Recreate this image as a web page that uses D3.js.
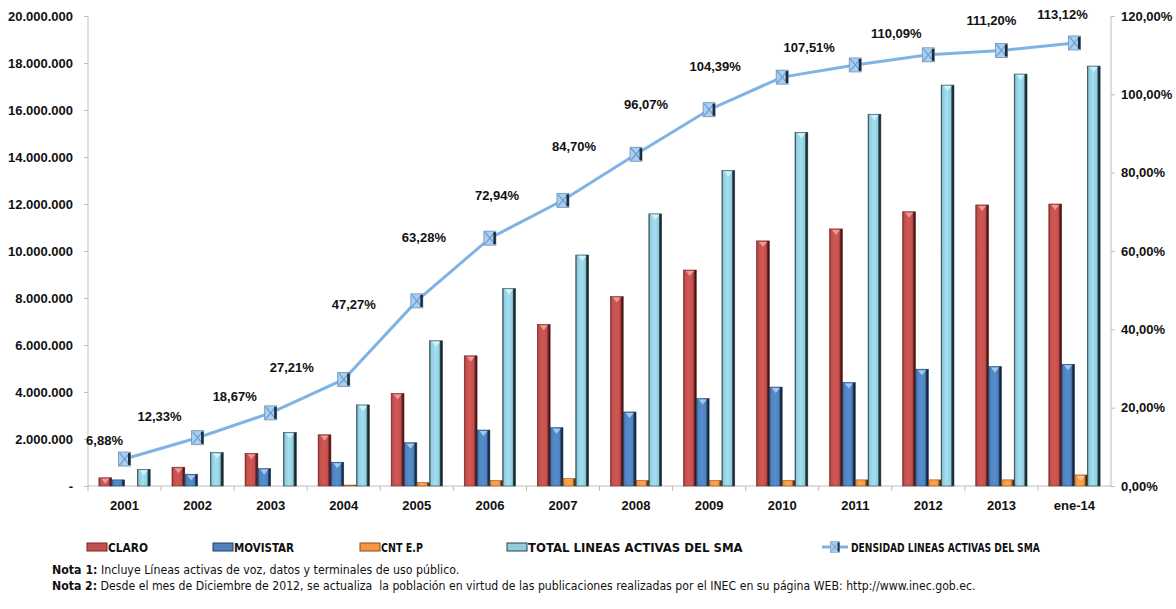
<!DOCTYPE html>
<html>
<head>
<meta charset="utf-8">
<script src="https://cdn.jsdelivr.net/npm/d3@7"></script>
<style>
  body { margin: 0; background: #fff; }
  svg { display: block; }
</style>
</head>
<body>
<div id="chart"></div>
<script>
// Líneas activas del SMA por operadora y densidad
const categories = ["2001", "2002", "2003", "2004", "2005", "2006", "2007", "2008", "2009", "2010", "2011", "2012", "2013", "ene-14"];
const claro    = [350000, 800000, 1390000, 2180000, 3940000, 5540000, 6880000, 8060000, 9190000, 10430000, 10940000, 11670000, 11960000, 12000000];
const movistar = [260000, 500000, 740000, 1010000, 1840000, 2380000, 2480000, 3150000, 3720000, 4210000, 4400000, 4970000, 5080000, 5180000];
const cnt      = [0, 0, 0, 40000, 140000, 230000, 310000, 230000, 230000, 230000, 260000, 260000, 260000, 470000];
const total    = [710000, 1420000, 2280000, 3450000, 6180000, 8400000, 9830000, 11580000, 13420000, 15050000, 15820000, 17060000, 17530000, 17870000];
const densidad = [6.88, 12.33, 18.67, 27.21, 47.27, 63.28, 72.94, 84.70, 96.07, 104.39, 107.51, 110.09, 111.20, 113.12];
const leftTicks  = [0, 2e6, 4e6, 6e6, 8e6, 10e6, 12e6, 14e6, 16e6, 18e6, 20e6];
const rightTicks = [0, 20, 40, 60, 80, 100, 120];

const seriesNames = ["CLARO", "MOVISTAR", "CNT E.P", "TOTAL LINEAS ACTIVAS DEL SMA"];
const lineName = "DENSIDAD LINEAS ACTIVAS DEL SMA";

// desplazamiento manual de las etiquetas de la línea (como en el original)
const labelNudge = [[-20, -19], [-38, -21], [-36, -16], [-52, -12], [-63, 4], [-66, -1], [-66, -5], [-62, -8], [-63, -5], [-67, -11], [-46, -17], [-32, -21], [-10, -30], [-12, -28]];

const width = 1176, height = 609;
const margin = { top: 16, right: 65, bottom: 123, left: 88 };

const loc = d3.formatLocale({ decimal: ",", thousands: ".", grouping: [3], currency: ["$", ""] });
const fmtInt = loc.format(",.0f");
const fmtPct = loc.format(",.2f");

const colors = {
  "CLARO":    { base: "#c0504d", dark: "#7a2523", tri: "#eb9a97" },
  "MOVISTAR": { base: "#4f81bd", dark: "#1d3f66", tri: "#a9c6ec" },
  "CNT E.P":  { base: "#f79646", dark: "#8a4a12", tri: "#fcc897" },
  "TOTAL LINEAS ACTIVAS DEL SMA": { base: "#93cddd", dark: "#27434c", tri: "#d4f0f8" }
};

const data = categories.map((c, i) => ({
  cat: c,
  values: [claro[i], movistar[i], cnt[i], total[i]],
  dens: densidad[i]
}));

const svg = d3.select("#chart").append("svg")
  .attr("width", width)
  .attr("height", height)
  .style("font-family", "'Liberation Sans', Arial, sans-serif");

// estrecha un texto horizontalmente hasta el ancho deseado
function fitWidth(sel, x0, w) {
  const len = sel.node().getComputedTextLength();
  if (len > w) {
    const k = w / len;
    sel.attr("transform", `translate(${x0},0) scale(${k},1) translate(${-x0},0)`);
  }
}

const defs = svg.append("defs");
seriesNames.forEach((s, i) => {
  const g = defs.append("linearGradient").attr("id", "grad" + i)
    .attr("x1", 0).attr("x2", 1).attr("y1", 0).attr("y2", 0);
  g.append("stop").attr("offset", "0%").attr("stop-color", colors[s].dark);
  g.append("stop").attr("offset", "12%").attr("stop-color", colors[s].base);
  g.append("stop").attr("offset", "45%").attr("stop-color", d3.color(colors[s].base).brighter(0.25));
  g.append("stop").attr("offset", "75%").attr("stop-color", colors[s].base);
  g.append("stop").attr("offset", "84%").attr("stop-color", colors[s].dark);
  g.append("stop").attr("offset", "100%").attr("stop-color", "#111");
});

const x = d3.scaleBand()
  .domain(categories)
  .range([margin.left, width - margin.right]);

const x1 = d3.scaleBand()
  .domain(seriesNames)
  .range([0, x.bandwidth()])
  .paddingInner(0)
  .paddingOuter(0.85);

const y = d3.scaleLinear()
  .domain([0, 20e6])
  .range([height - margin.bottom, margin.top]);

const y2 = d3.scaleLinear()
  .domain([0, 120])
  .range([height - margin.bottom, margin.top]);

// ejes
const axisColor = "#bdbdbd";
const gl = svg.append("g")
  .attr("transform", `translate(${margin.left},0)`)
  .call(d3.axisLeft(y).tickValues(leftTicks).tickSize(4).tickPadding(11)
    .tickFormat(d => d === 0 ? "-" : fmtInt(d)));

const gr = svg.append("g")
  .attr("transform", `translate(${width - margin.right},0)`)
  .call(d3.axisRight(y2).tickValues(rightTicks).tickSize(4).tickPadding(6)
    .tickFormat(d => fmtPct(d) + "%"));

const gb = svg.append("g")
  .attr("transform", `translate(0,${height - margin.bottom})`)
  .call(d3.axisBottom(x).tickSize(0).tickPadding(15));

// marcas entre categorías
svg.append("g").selectAll("line")
  .data(categories)
  .enter().append("line")
  .attr("x1", d => x(d)).attr("x2", d => x(d))
  .attr("y1", y(0)).attr("y2", y(0) + 5)
  .attr("stroke", axisColor);

[gl, gr, gb].forEach(g => {
  g.selectAll("path, line").attr("stroke", axisColor);
  g.selectAll("text")
    .attr("fill", "#111")
    .style("font-size", "13px")
    .style("font-weight", "bold")
    .style("font-family", "'Liberation Sans', Arial, sans-serif");
});
gl.select("path.domain").attr("d", `M0,${y(0)}V${y(20e6)}`);
gr.select("path.domain").attr("d", `M0,${y2(0)}V${y2(120)}`);
gb.select("path.domain").attr("d", `M${margin.left},0H${width - margin.right}`);

// barras
const groups = svg.append("g").selectAll("g")
  .data(data)
  .enter().append("g")
  .attr("transform", d => `translate(${x(d.cat)},0)`);

const bars = groups.selectAll("g")
  .data(d => d.values.map((v, i) => ({ key: seriesNames[i], idx: i, v })).filter(e => e.v > 0))
  .enter().append("g");

bars.append("rect")
  .attr("x", d => x1(d.key))
  .attr("y", d => y(d.v))
  .attr("width", x1.bandwidth())
  .attr("height", d => y(0) - y(d.v))
  .attr("fill", d => `url(#grad${d.idx})`)
  .attr("stroke", d => colors[d.key].dark)
  .attr("stroke-width", 0.6);

bars.filter(d => y(0) - y(d.v) > 8)
  .append("path")
  .attr("d", d => {
    const cx = x1(d.key) + x1.bandwidth() / 2;
    const ty = y(d.v) + 1;
    return `M${cx - 4},${ty}L${cx + 4},${ty}L${cx},${ty + 5}Z`;
  })
  .attr("fill", d => colors[d.key].tri);

// línea de densidad
const cx = d => x(d.cat) + x.bandwidth() / 2;
const line = d3.line().x(cx).y(d => y2(d.dens));

svg.append("path")
  .datum(data)
  .attr("d", line)
  .attr("fill", "none")
  .attr("stroke", "#7fb3e6")
  .attr("stroke-width", 3);

function marker(g) {
  g.append("rect")
    .attr("x", -6).attr("y", -7).attr("width", 12).attr("height", 14)
    .attr("fill", "#a9d0f0").attr("stroke", "#6d8fb0").attr("stroke-width", 0.8);
  g.append("path")
    .attr("d", "M-5,-6L5,6M5,-6L-5,6")
    .attr("stroke", "#6a9bd0").attr("stroke-width", 1.2);
  g.append("rect")
    .attr("x", 3.5).attr("y", -6).attr("width", 2.5).attr("height", 12)
    .attr("fill", "#1e2b38");
}

svg.append("g").selectAll("g")
  .data(data)
  .enter().append("g")
  .attr("transform", d => `translate(${cx(d)},${y2(d.dens)})`)
  .each(function () { marker(d3.select(this)); });

svg.append("g").selectAll("text")
  .data(data)
  .enter().append("text")
  .attr("x", (d, i) => cx(d) + labelNudge[i][0])
  .attr("y", (d, i) => y2(d.dens) + labelNudge[i][1])
  .attr("dy", "0.35em")
  .attr("text-anchor", "middle")
  .style("font-size", "13px")
  .style("font-weight", "bold")
  .attr("fill", "#111")
  .text(d => fmtPct(d.dens) + "%");

// leyenda
const legendX = [87, 213, 360, 507];
const legendW = [40, 60, 42, 226];
const legendY = 547;
const narrow = "'Liberation Sans Narrow', 'Arial Narrow', 'DejaVu Sans Condensed', sans-serif";

const leg = svg.append("g");
seriesNames.forEach((s, i) => {
  leg.append("rect")
    .attr("x", legendX[i]).attr("y", legendY - 4)
    .attr("width", 20).attr("height", 8)
    .attr("fill", colors[s].base)
    .attr("stroke", colors[s].dark).attr("stroke-width", 1);
  const t = leg.append("text")
    .attr("x", legendX[i] + 21).attr("y", legendY)
    .attr("dy", "0.35em")
    .style("font-family", narrow)
    .style("font-size", "13px")
    .style("font-weight", "bold")
    .attr("fill", "#111")
    .text(s);
  fitWidth(t, legendX[i] + 21, legendW[i]);
});
leg.append("line")
  .attr("x1", 822).attr("x2", 848)
  .attr("y1", legendY).attr("y2", legendY)
  .attr("stroke", "#7fb3e6").attr("stroke-width", 3);
const lm = leg.append("g").attr("transform", `translate(835,${legendY}) scale(0.75)`);
marker(lm);
const lt = leg.append("text")
  .attr("x", 851).attr("y", legendY)
  .attr("dy", "0.35em")
  .style("font-family", narrow)
  .style("font-size", "13px")
  .style("font-weight", "bold")
  .attr("fill", "#111")
  .text(lineName);
fitWidth(lt, 851, 189);

// notas
const notes = [
  ["Nota 1:", " Incluye Líneas activas de voz, datos y terminales de uso público."],
  ["Nota 2:", " Desde el mes de Diciembre de 2012, se actualiza  la población en virtud de las publicaciones realizadas por el INEC en su página WEB: http://www.inec.gob.ec."]
];
const noteW = [408, 925];
notes.forEach((n, i) => {
  const t = svg.append("text")
    .attr("x", 52).attr("y", 574 + i * 16)
    .style("font-family", narrow)
    .style("font-size", "12.5px")
    .attr("fill", "#111")
    .attr("xml:space", "preserve");
  t.append("tspan").style("font-weight", "bold").text(n[0]);
  t.append("tspan").text(n[1]);
  fitWidth(t, 52, noteW[i]);
});
</script>
</body>
</html>
